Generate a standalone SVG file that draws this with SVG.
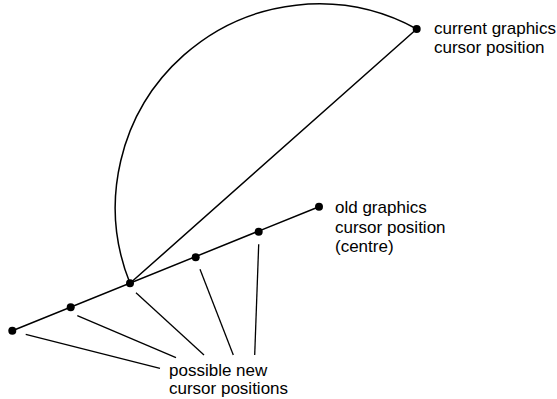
<svg xmlns="http://www.w3.org/2000/svg" width="557" height="399" viewBox="0 0 557 399">
<style>
.ln{fill:none;stroke:#000;stroke-width:1.5;stroke-linecap:round}
.ld{fill:none;stroke:#000;stroke-width:1.3}
.dot{fill:#000}
.t{font-family:"Liberation Sans",Arial,Helvetica,sans-serif;font-size:17px;fill:#000}
</style>
<rect width="557" height="399" fill="#fff"/>
<g id="connectors">
<path class="ln" d="M130,283.3 A203.5,203.5 0 0 1 416.7,29"/>
<line class="ln" x1="130" y1="283.3" x2="416.7" y2="29"/>
<line class="ln" x1="12.3" y1="330.7" x2="319" y2="206.7"/>
<line class="ld" x1="25.7" y1="334.3" x2="160" y2="368.3"/>
<line class="ld" x1="77.3" y1="315.7" x2="176" y2="357.7"/>
<line class="ld" x1="136" y1="292.7" x2="204" y2="355"/>
<line class="ld" x1="200" y1="269.3" x2="233.3" y2="355"/>
<line class="ld" x1="258.7" y1="244.3" x2="254.7" y2="355"/>
</g>
<g id="current">
<circle class="dot" cx="416.7" cy="29" r="4"/>
<text class="t" x="434" y="34">current graphics</text>
<text class="t" x="434" y="53.3">cursor position</text>
</g>
<g id="old">
<circle class="dot" cx="319" cy="206.7" r="4"/>
<text class="t" x="335" y="213.3">old graphics</text>
<text class="t" x="335" y="232.6">cursor position</text>
<text class="t" x="335" y="251.9">(centre)</text>
</g>
<g id="p1"><circle class="dot" cx="12.3" cy="330.7" r="4"/></g>
<g id="p2"><circle class="dot" cx="70.7" cy="307.3" r="4"/></g>
<g id="p3"><circle class="dot" cx="130" cy="283.3" r="4"/></g>
<g id="p4"><circle class="dot" cx="195.7" cy="257.3" r="4"/></g>
<g id="p5"><circle class="dot" cx="258.7" cy="231.7" r="4"/></g>
<g id="label">
<text class="t" x="169" y="376">possible new</text>
<text class="t" x="169" y="394.3">cursor positions</text>
</g>
</svg>
